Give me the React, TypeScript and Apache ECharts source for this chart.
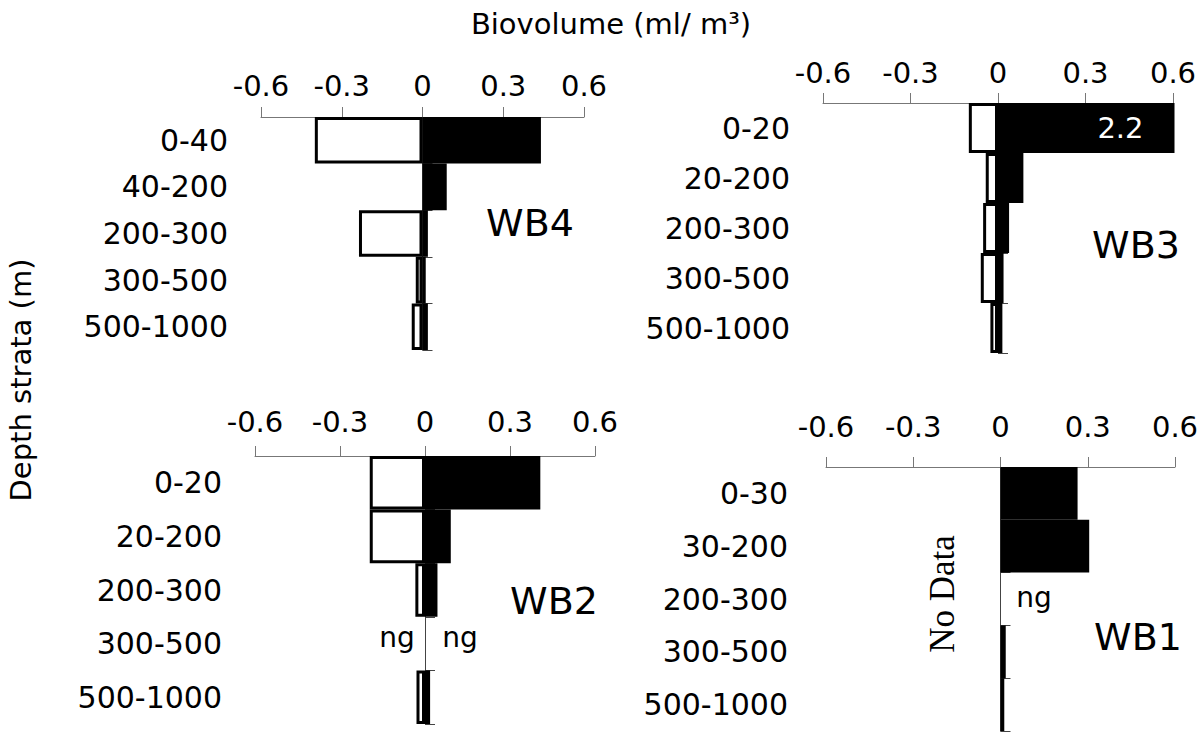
import React, { useEffect, useRef } from "react";
import * as echarts from "echarts";

const tickValues = { min: -0.6, max: 0.6, interval: 0.3 };

const wb4Strata = ["0-40", "40-200", "200-300", "300-500", "500-1000"];
const wb4Neg: (number | string)[] = [-0.4, "-", -0.236, -0.025, -0.04];
const wb4Pos: (number | string)[] = [0.44, 0.09, 0.02, 0.012, 0.02];

const wb3Strata = ["0-20", "20-200", "200-300", "300-500", "500-1000"];
const wb3Neg: (number | string)[] = [-0.1, -0.042, -0.051, -0.059, -0.026];
const wb3Pos: (number | string)[] = [2.2, 0.087, 0.038, 0.019, 0.015];

const wb2Strata = ["0-20", "20-200", "200-300", "300-500", "500-1000"];
const wb2Neg: (number | string)[] = [-0.195, -0.195, -0.034, "-", -0.03];
const wb2Pos: (number | string)[] = [0.407, 0.091, 0.044, "-", 0.018];

const wb1Strata = ["0-30", "30-200", "200-300", "300-500", "500-1000"];
const wb1Neg: (number | string)[] = ["-", "-", "-", "-", "-"];
const wb1Pos: (number | string)[] = [0.265, 0.305, "-", 0.018, 0.013];

const panelNames = ["WB4", "WB3", "WB2", "WB1"];

const SANS = "DejaVu Sans";

type Panel = {
  strata: string[];
  neg: (number | string)[];
  pos: (number | string)[];
  grid: { left: number; top: number; width: number; height: number };
  tickMargin: number;
  catMargin: number;
};

const panels: Panel[] = [
  { strata: wb4Strata, neg: wb4Neg, pos: wb4Pos, grid: { left: 261, top: 117, width: 323, height: 233 }, tickMargin: 17, catMargin: 33 },
  { strata: wb3Strata, neg: wb3Neg, pos: wb3Pos, grid: { left: 823, top: 103, width: 350, height: 250 }, tickMargin: 16, catMargin: 33 },
  { strata: wb2Strata, neg: wb2Neg, pos: wb2Pos, grid: { left: 255, top: 456, width: 340, height: 268 }, tickMargin: 20, catMargin: 33 },
  { strata: wb1Strata, neg: wb1Neg, pos: wb1Pos, grid: { left: 826, top: 467, width: 349, height: 264 }, tickMargin: 26, catMargin: 38 },
];

const panelLabelPos = [
  [530, 223],
  [1136, 245],
  [554, 601],
  [1138, 637],
];

export default function App() {
  const ref = useRef<HTMLDivElement>(null);

  useEffect(() => {
    if (!ref.current) return;
    const chart = echarts.init(ref.current, undefined, { renderer: "svg" });

    const grids: any[] = [];
    const xAxes: any[] = [];
    const yAxes: any[] = [];
    const series: any[] = [];

    panels.forEach((p, i) => {
      grids.push({ ...p.grid, outerBoundsMode: "none", containLabel: false });
      xAxes.push({
        gridIndex: i,
        type: "value",
        position: "top",
        min: tickValues.min,
        max: tickValues.max,
        interval: tickValues.interval,
        axisLine: { show: true, onZero: false, lineStyle: { color: "#777", width: 1 } },
        axisTick: { show: true, length: 10, lineStyle: { color: "#777", width: 1 } },
        axisLabel: { fontSize: 29, fontFamily: SANS, color: "#000", margin: p.tickMargin },
        splitLine: { show: false },
      });
      yAxes.push({
        gridIndex: i,
        type: "category",
        inverse: true,
        data: p.strata,
        axisLine: { show: false, onZero: false },
        axisTick: { show: false },
        axisLabel: { fontSize: 30, fontFamily: SANS, color: "#000", margin: p.catMargin },
      });
      yAxes.push({
        gridIndex: i,
        type: "category",
        inverse: true,
        data: p.strata,
        axisLine: { show: true, onZero: true, lineStyle: { color: "#444", width: 1 } },
        axisTick: { show: true, length: 10, lineStyle: { color: "#444", width: 1 } },
        axisLabel: { show: false },
      });
      const barCommon = {
        type: "bar",
        xAxisIndex: i,
        yAxisIndex: 2 * i,
        barGap: "-100%",
        barCategoryGap: "0%",
        clip: true,
      };
      series.push({
        ...barCommon,
        name: panelNames[i] + " neg",
        data: p.neg,
        itemStyle: { color: "#fff", borderColor: "#000", borderWidth: 3 },
      });
      series.push({
        ...barCommon,
        name: panelNames[i] + " pos",
        data: p.pos.map((v) =>
          typeof v === "number" && v > tickValues.max
            ? {
                value: v,
                label: {
                  show: true,
                  position: "insideRight",
                  distance: 31,
                  color: "#fff",
                  fontSize: 29,
                  fontFamily: SANS,
                },
              }
            : v
        ),
        itemStyle: { color: "#000", borderColor: "#000", borderWidth: 3 },
      });
    });

    const graphics: any[] = [
      {
        type: "text",
        x: 611,
        y: 24,
        style: { text: "Biovolume (ml/ m³)", fontSize: 29, fontFamily: SANS, fill: "#000", align: "center", verticalAlign: "middle" },
      },
      {
        type: "text",
        x: 21,
        y: 380,
        rotation: Math.PI / 2,
        style: { text: "Depth strata (m)", fontSize: 29, fontFamily: SANS, fill: "#000", align: "center", verticalAlign: "middle" },
      },
      {
        type: "text",
        x: 942,
        y: 594,
        rotation: Math.PI / 2,
        style: { text: "No Data", fontSize: 35, fontFamily: "Liberation Serif", fill: "#000", align: "center", verticalAlign: "middle" },
      },
      {
        type: "text",
        x: 397,
        y: 637,
        style: { text: "ng", fontSize: 28, fontFamily: SANS, fill: "#000", align: "center", verticalAlign: "middle" },
      },
      {
        type: "text",
        x: 460,
        y: 637,
        style: { text: "ng", fontSize: 28, fontFamily: SANS, fill: "#000", align: "center", verticalAlign: "middle" },
      },
      {
        type: "text",
        x: 1034,
        y: 597,
        style: { text: "ng", fontSize: 28, fontFamily: SANS, fill: "#000", align: "center", verticalAlign: "middle" },
      },
      ...panelNames.map((n, i) => ({
        type: "text",
        x: panelLabelPos[i][0],
        y: panelLabelPos[i][1],
        style: { text: n, fontSize: 38, fontFamily: SANS, fill: "#000", align: "center", verticalAlign: "middle" },
      })),
    ];

    chart.setOption({
      animation: false,
      backgroundColor: "#fff",
      textStyle: { fontFamily: SANS },
      grid: grids,
      xAxis: xAxes,
      yAxis: yAxes,
      series,
      graphic: graphics,
    });

    return () => chart.dispose();
  }, []);

  return (
    <div
      ref={ref}
      style={{ position: "fixed", left: 0, top: 0, width: 1200, height: 735, background: "#fff" }}
    />
  );
}
